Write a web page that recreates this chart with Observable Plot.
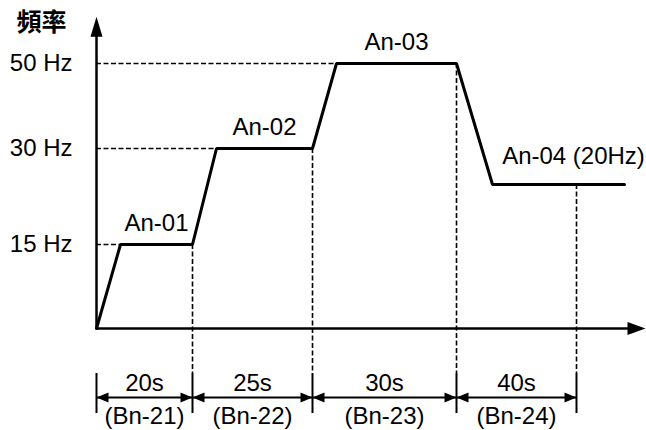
<!DOCTYPE html>
<html>
<head>
<meta charset="utf-8">
<script src="https://cdn.jsdelivr.net/npm/d3@7"></script>
<script src="https://cdn.jsdelivr.net/npm/@observablehq/plot@0.6"></script>
<style>
  html, body { margin: 0; padding: 0; background: #fff; }
</style>
</head>
<body>
<div id="chart"></div>
<script>
// Speed profile (time in seconds, frequency in Hz)
const timeSec = [0, 5, 20, 25, 45, 50, 75, 87, 131];
const freqHz  = [0, 15, 15, 30, 30, 50, 50, 20, 20];

// Frequency ticks on the vertical axis
const yTicks = [15, 30, 50];
const yAxisLabel = "頻率";

// Steps: name, level, plateau start, label centre time
const stepNames   = ["An-01", "An-02", "An-03", "An-04 (20Hz)"];
const stepFreq    = [15, 30, 50, 20];
const plateauFrom = [5, 25, 50, 87];
const stepLabelT  = [12.5, 35, 62.5, 114];

// Time segments
const segStart = [0, 20, 45, 75];
const segDur   = [20, 25, 30, 40];
const segParam = ["Bn-21", "Bn-22", "Bn-23", "Bn-24"];

// Axis extents
const yTop = 61;
const xEnd = 138;

// ---- derived tables ----
const profile = timeSec.map((t, i) => ({t, f: freqHz[i]}));
const steps = stepNames.map((name, i) => ({
  name, f: stepFreq[i], from: plateauFrom[i], labelT: stepLabelT[i]
}));
const segs = segStart.map((s, i) => ({
  start: s, end: s + segDur[i], mid: s + segDur[i] / 2,
  dur: `${segDur[i]}s`, param: `(${segParam[i]})`
}));
const boundaries = [0, ...segs.map(d => d.end)];

const arrowHead = (len, half) => ({
  draw(ctx) {
    ctx.moveTo(0, 0);
    ctx.lineTo(-len, -half);
    ctx.lineTo(-len, half);
    ctx.closePath();
  }
});

const FS = 24;
const dash = "5,2.5";

const chart = Plot.plot({
  width: 646,
  height: 430,
  marginTop: 0,
  marginBottom: 0,
  marginLeft: 96,
  marginRight: 0,
  style: {
    fontFamily: "'Liberation Sans', Arial, 'Noto Sans CJK TC', sans-serif",
    background: "white",
    color: "black"
  },
  x: {type: "linear", domain: [0, 75, 115], range: [96, 456, 576], axis: null},
  y: {type: "linear", domain: [0, 15, 20, 30, 50], range: [328, 244, 184, 148, 63], axis: null},
  marks: [
    // horizontal dashed guides
    Plot.ruleY(steps.slice(0, 3), {y: "f", x1: 0, x2: "from", stroke: "black", strokeWidth: 1.6, strokeDasharray: dash}),
    // vertical dashed guides down to the dimension lines
    Plot.ruleX(steps.map((d, i) => ({t: segs[i].end, f: d.f})), {x: "t", y1: "f", y2: 0, insetBottom: -45, stroke: "black", strokeWidth: 1.6, strokeDasharray: dash}),
    // axes
    Plot.ruleX([0], {y1: 0, y2: yTop - 3, stroke: "black", strokeWidth: 2.5}),
    Plot.dot([{t: 0, f: yTop}], {x: "t", y: "f", symbol: arrowHead(20, 6), rotate: -90, fill: "black", stroke: "none"}),
    Plot.ruleY([0], {x1: 0, x2: xEnd - 5, stroke: "black", strokeWidth: 2.5}),
    Plot.dot([{t: xEnd, f: 0}], {x: "t", y: "f", symbol: arrowHead(18, 6.5), rotate: 0, fill: "black", stroke: "none"}),
    // y tick labels
    Plot.axisY({ticks: yTicks, tickFormat: d => `${d} Hz`, tickSize: 0, tickPadding: 24, fontSize: FS, label: null}),
    Plot.text([yAxisLabel], {x: 0, y: yTop, text: d => d, dx: -55, dy: 6, fontSize: 25, fontWeight: "bold", textAnchor: "middle", fontFamily: "'Noto Sans CJK TC', sans-serif"}),
    // speed profile
    Plot.line(profile, {x: "t", y: "f", stroke: "black", strokeWidth: 3, strokeLinejoin: "miter"}),
    // step labels
    Plot.text(steps.slice(0, 3), {x: "labelT", y: "f", text: "name", dy: -14, lineAnchor: "bottom", fontSize: FS}),
    Plot.text(steps.slice(3), {x: "labelT", y: "f", text: "name", dy: -21, lineAnchor: "bottom", fontSize: FS}),
    // dimension ticks
    Plot.ruleX(boundaries, {insetTop: 373, insetBottom: 17, stroke: "black", strokeWidth: 2}),
    // dimension lines
    Plot.link(segs, {x1: "start", x2: "end", y1: 0, y2: 0, dy: 69, stroke: "black", strokeWidth: 2}),
    Plot.dot(segs, {x: "start", y: 0, dy: 69, symbol: arrowHead(12, 5), rotate: 180, fill: "black", stroke: "none"}),
    Plot.dot(segs, {x: "end", y: 0, dy: 69, symbol: arrowHead(12, 5), rotate: 0, fill: "black", stroke: "none"}),
    Plot.text(segs, {x: "mid", y: 0, text: "dur", dy: 62, lineAnchor: "bottom", fontSize: FS}),
    Plot.text(segs, {x: "mid", y: 0, text: "param", dy: 95, lineAnchor: "bottom", fontSize: FS})
  ]
});
document.getElementById("chart").appendChild(chart);
</script>
</body>
</html>
